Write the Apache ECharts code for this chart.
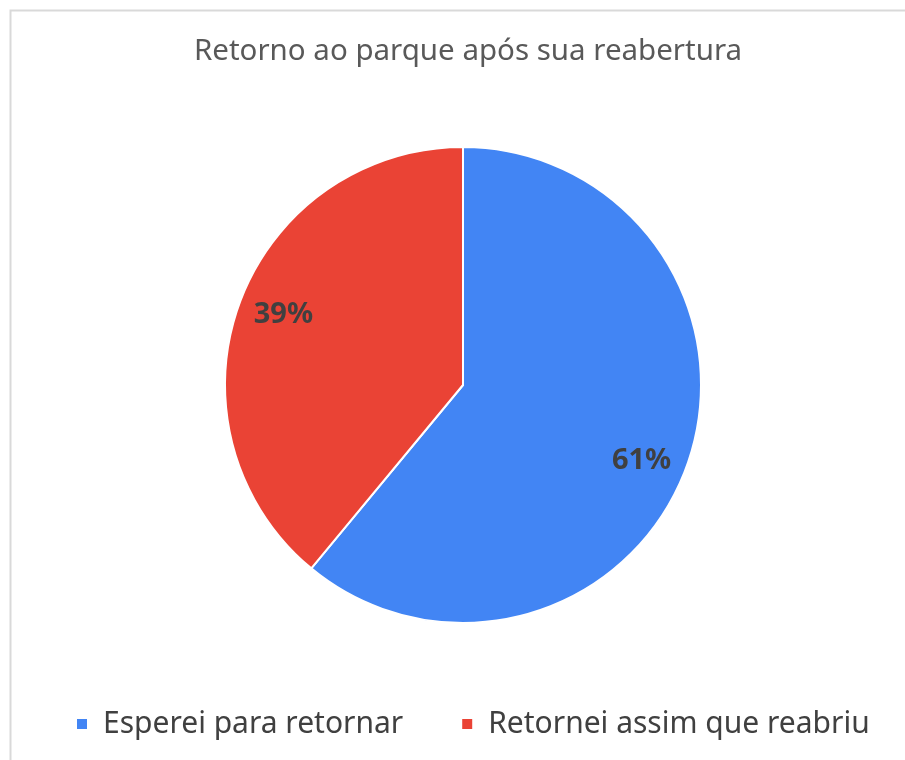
<!DOCTYPE html>
<html>
<head>
<meta charset="utf-8">
<script src="https://cdn.jsdelivr.net/npm/echarts@6/dist/echarts.min.js"></script>
<style>
  html, body { margin: 0; padding: 0; background: #fff; }
  #main { width: 905px; height: 760px; }
</style>
</head>
<body>
<div id="main"></div>
<script>
var categories = ['Esperei para retornar', 'Retornei assim que reabriu'];
var values = [61, 39];
var colors = ['#4285F4', '#EA4335'];

var chart = echarts.init(document.getElementById('main'), null, { renderer: 'canvas' });

// small label nudges so they sit like the Excel original
var labelNudge = [[-3, 10], [2, -5]];

var data = categories.map(function (name, i) {
  return { value: values[i], name: name, itemStyle: { color: colors[i] } };
});

var option = {
  backgroundColor: '#fff',
  animation: false,
  graphic: [{
    type: 'rect',
    shape: { x: 10.5, y: 10.5, width: 920, height: 780 },
    style: { fill: 'none', stroke: '#d9d9d9', lineWidth: 2 },
    silent: true
  }],
  title: {
    text: 'Retorno ao parque após sua reabertura',
    left: 463,
    textAlign: 'center',
    top: 32,
    textStyle: { fontFamily: 'Noto Sans', fontSize: 29.5, fontWeight: 'normal', color: '#595959' }
  },
  legend: {
    bottom: 16,
    left: 70,
    itemWidth: 12,
    itemHeight: 12,
    itemGap: 57,
    icon: 'rect',
    textStyle: { fontFamily: 'Noto Sans', fontSize: 30, color: '#404040', padding: [0, 0, 0, 10] },
    data: categories
  },
  series: [
    {
      type: 'pie',
      center: [463, 385],
      radius: [0, 238],
      startAngle: 90,
      clockwise: true,
      label: { show: false },
      labelLine: { show: false },
      itemStyle: { borderColor: '#fff', borderWidth: 2 },
      emphasis: { disabled: true },
      data: data
    },
    {
      type: 'pie',
      center: [463, 385],
      radius: [142, 238],
      startAngle: 90,
      clockwise: true,
      silent: true,
      legendHoverLink: false,
      itemStyle: { color: 'transparent' },
      label: {
        show: true,
        position: 'inside',
        formatter: '{c}%',
        fontFamily: 'Noto Sans',
        fontSize: 29,
        fontWeight: 'bold',
        color: '#404040'
      },
      labelLine: { show: false },
      data: categories.map(function (name, i) {
        return { value: values[i], name: name, label: { offset: labelNudge[i] } };
      })
    }
  ]
};
chart.setOption(option);
</script>
</body>
</html>
